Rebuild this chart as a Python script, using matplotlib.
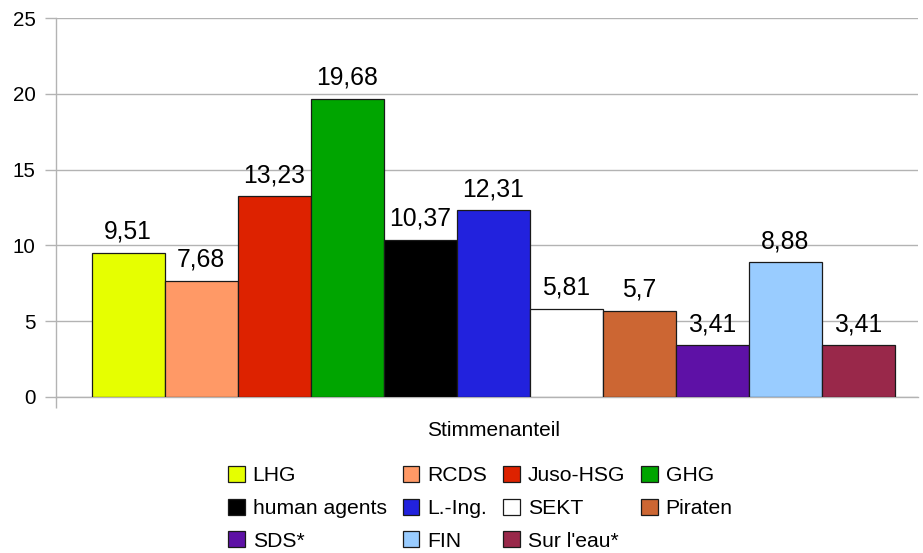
import matplotlib
matplotlib.use("Agg")
import matplotlib.pyplot as plt
from matplotlib.patches import Patch

plt.rcParams['font.family'] = ['Liberation Sans', 'DejaVu Sans']

parties = ["LHG", "RCDS", "Juso-HSG", "GHG", "human agents", "L.-Ing.",
           "SEKT", "Piraten", "SDS*", "FIN", "Sur l'eau*"]
values = [9.51, 7.68, 13.23, 19.68, 10.37, 12.31, 5.81, 5.7, 3.41, 8.88, 3.41]
value_labels = ["9,51", "7,68", "13,23", "19,68", "10,37", "12,31",
                "5,81", "5,7", "3,41", "8,88", "3,41"]
colors = ["#e6ff00", "#ff9966", "#dd2200", "#00a500", "#000000", "#2222dd",
          "#ffffff", "#cc6633", "#5e11a6", "#99ccff", "#99284a"]
category = "Stimmenanteil"
yticks = [0, 5, 10, 15, 20, 25]

fig = plt.figure(figsize=(9.23, 5.53), dpi=100)
ax = fig.add_axes([56/923, 1-397/553, (918-56)/923, (397-18)/553])

grid_c = "#b3b3b3"
xs = list(range(len(values)))
ax.bar(xs, values, width=1.0, color=colors, edgecolor="#1a1a1a", linewidth=0.9, zorder=3)
for x, v, lab in zip(xs, values, value_labels):
    ax.annotate(lab, (x, v), xytext=(0, 6.5), textcoords="offset points",
                ha="center", va="bottom", fontsize=17.8, color="#000000", zorder=4)

xl = (-0.99, 10.82)
ax.set_xlim(*xl)
ax.set_ylim(0, 25)
ax.set_yticks(yticks)
ax.set_yticklabels([str(t) for t in yticks], fontsize=14.8)
ax.yaxis.grid(True, color=grid_c, linewidth=1.0, zorder=0)
ax.tick_params(axis="y", length=8, color=grid_c, width=1.0, pad=6.5)
ax.set_xticks([xl[0]])
ax.set_xticklabels([""])
ax.tick_params(axis="x", length=8, color=grid_c, width=1.0)
for s in ["top", "right"]:
    ax.spines[s].set_visible(False)
for s in ["left", "bottom"]:
    ax.spines[s].set_color(grid_c)
    ax.spines[s].set_linewidth(1.0)
ax.set_axisbelow(True)

fig.text(494/923, 1-430/553, category, ha="center", va="center", fontsize=15)

handles = [Patch(facecolor=c, edgecolor="#1a1a1a", linewidth=0.9) for c in colors]
order = [0, 4, 8, 1, 5, 9, 2, 6, 10, 3, 7]
leg = fig.legend([handles[i] for i in order], [parties[i] for i in order],
                 ncol=4, loc="upper left", bbox_to_anchor=(228/923, 1-466/553),
                 frameon=False, fontsize=15.2, handlelength=0.79, handleheight=0.79,
                 handletextpad=0.38, columnspacing=0.75, labelspacing=0.63,
                 borderpad=0, borderaxespad=0)

fig.savefig("out.png", dpi=100)
